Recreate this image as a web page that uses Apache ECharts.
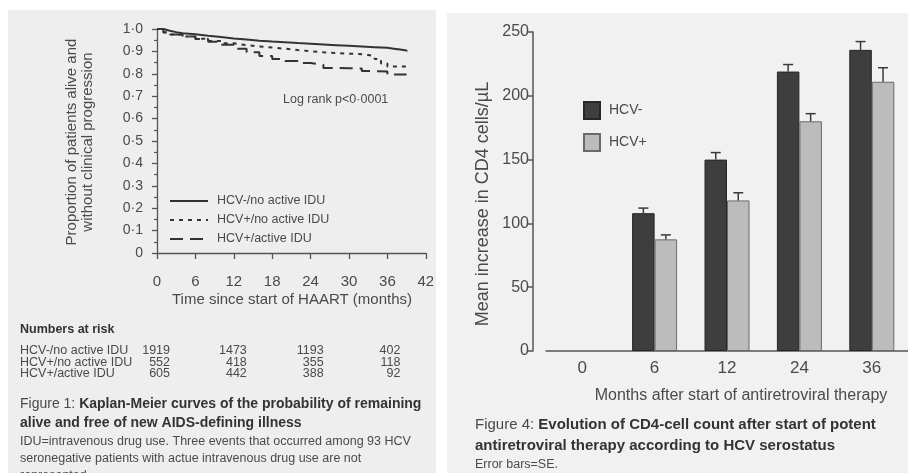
<!DOCTYPE html>
<html><head><meta charset="utf-8">
<script src="https://cdn.jsdelivr.net/npm/echarts@6/dist/echarts.min.js"></script>
<style>html,body{margin:0;padding:0;background:#fff}#c{width:908px;height:473px}</style>
</head><body><div id="c"></div><script>
// ---- Figure 1: Kaplan-Meier curves (months, proportion event-free) ----
const kmNames = ['HCV-/no active IDU', 'HCV+/no active IDU', 'HCV+/active IDU'];
const kmHcvNegNoIdu = [[0,1.0],[1,0.992],[2,0.986],[3,0.981],[4,0.977],[6,0.970],[8,0.964],[10,0.958],[12,0.953],[14,0.948],[16,0.944],[18,0.941],[20,0.937],[22,0.934],[24,0.931],[26,0.928],[28,0.925],[30,0.922],[32,0.919],[34,0.916],[36,0.912],[37,0.908],[38,0.904],[39,0.900]];
const kmHcvPosNoIdu = [[0,1.0],[1,0.985],[2,0.976],[4,0.966],[6,0.956],[8,0.946],[10,0.936],[12,0.928],[14,0.922],[16,0.917],[18,0.912],[20,0.906],[22,0.901],[24,0.896],[26,0.893],[28,0.890],[30,0.887],[32,0.884],[33,0.878],[34,0.866],[35,0.846],[36,0.833],[39,0.833]];
const kmHcvPosIdu = [[0,1.0],[1,0.984],[2,0.975],[4,0.966],[6,0.955],[8,0.943],[10,0.930],[12,0.912],[14,0.896],[16,0.880],[18,0.866],[20,0.857],[22,0.848],[24,0.840],[26,0.826],[28,0.825],[30,0.824],[32,0.812],[34,0.810],[36,0.797],[39,0.795]];

// Numbers at risk
const riskMonths = [0, 12, 24, 36];
const riskHcvNegNoIdu = [1919, 1473, 1193, 402];
const riskHcvPosNoIdu = [552, 418, 355, 118];
const riskHcvPosIdu = [605, 442, 388, 92];

// ---- Figure 4: CD4 increase by HCV serostatus ----
const cd4Months = ['0', '6', '12', '24', '36'];
const cd4Names = ['HCV-', 'HCV+'];
const cd4HcvNeg = [null, 108, 150, 219, 236];
const cd4HcvPos = [null, 87.5, 118, 180, 211];
const cd4SeHcvNeg = [null, 4, 5.5, 5.5, 6.5];
const cd4SeHcvPos = [null, 3.5, 6, 6, 11];

const FONT = '"Liberation Sans", Arial, sans-serif';
const INK = '#3a3a3a';
const TXT = '#4a4a4a';
const BAR_W = 22.5;

const kmStyles = [
  { color: '#333', width: 2, type: 'solid' },
  { color: '#333', width: 2, type: [4, 5] },
  { color: '#333', width: 2, type: [13, 7] }
];
const kmData = [kmHcvNegNoIdu, kmHcvPosNoIdu, kmHcvPosIdu];
const riskData = [riskHcvNegNoIdu, riskHcvPosNoIdu, riskHcvPosIdu];

function errorBars(values, errs, side) {
  return {
    type: 'custom', xAxisIndex: 1, yAxisIndex: 1, z: 5,
    data: values.map((v, i) => v == null ? null : [i, v, errs[i]]).filter(Boolean),
    encode: { x: 0, y: 1 },
    renderItem(params, api) {
      const i = api.value(0), v = api.value(1), e = api.value(2);
      const base = api.coord([i, v]);
      const top = api.coord([i, v + e]);
      const x = base[0] + side * BAR_W / 2;
      return { type: 'group', children: [
        { type: 'line', shape: { x1: x, y1: base[1], x2: x, y2: top[1] }, style: { stroke: INK, lineWidth: 1.5 } },
        { type: 'line', shape: { x1: x - 5, y1: top[1], x2: x + 5, y2: top[1] }, style: { stroke: INK, lineWidth: 1.5 } }
      ]};
    }
  };
}

const chart = echarts.init(document.getElementById('c'), null, { renderer: 'canvas' });

const option = {
  animation: false,
  backgroundColor: '#ffffff',
  textStyle: { fontFamily: FONT },
  grid: [
    { left: 157, top: 29, width: 268.8, height: 224 },
    { left: 546, top: 32, width: 387.5, height: 319 }
  ],
  xAxis: [
    {
      gridIndex: 0, type: 'value', min: 0, max: 42, interval: 6, offset: 9,
      axisLine: { show: true, lineStyle: { color: '#555', width: 1.3 } },
      axisTick: { show: true, length: 6, lineStyle: { color: '#555', width: 1.3 } },
      axisLabel: { fontSize: 15, color: TXT, margin: 12, fontFamily: FONT },
      splitLine: { show: false }
    },
    {
      gridIndex: 1, type: 'category', data: cd4Months,
      axisLine: { show: true, lineStyle: { color: '#555', width: 1.5 } },
      axisTick: { show: false },
      axisLabel: { fontSize: 17, color: TXT, margin: 9, fontFamily: FONT },
      splitLine: { show: false }
    }
  ],
  yAxis: [
    {
      gridIndex: 0, type: 'value', min: 0, max: 1, interval: 0.1, offset: 5,
      axisLine: { show: true, lineStyle: { color: '#555', width: 1.3 } },
      axisTick: { show: true, length: 5, lineStyle: { color: '#555', width: 1.3 } },
      minorTick: { show: true, splitNumber: 2, length: 3, lineStyle: { color: '#555', width: 1.2 } },
      axisLabel: {
        fontSize: 14, color: TXT, margin: 9, fontFamily: FONT,
        formatter: v => v === 0 ? '0' : v.toFixed(1).replace('.', '\u00b7')
      },
      splitLine: { show: false }
    },
    {
      gridIndex: 1, type: 'value', min: 0, max: 250, interval: 50, offset: 13,
      axisLine: { show: true, lineStyle: { color: '#555', width: 1.5 } },
      axisTick: { show: true, length: 6, lineStyle: { color: '#555', width: 1.5 } },
      axisLabel: { fontSize: 16, color: TXT, margin: 4, fontFamily: FONT },
      splitLine: { show: false }
    }
  ],
  legend: {
    data: cd4Names, orient: 'vertical', left: 583, top: 101, padding: 0,
    itemWidth: 16, itemHeight: 17, itemGap: 13, icon: 'rect',
    textStyle: { fontSize: 14, color: TXT, fontFamily: FONT, padding: [0, 0, 0, 4] }
  },
  series: [
    ...kmData.map((d, k) => ({
      name: kmNames[k], type: 'line', xAxisIndex: 0, yAxisIndex: 0,
      step: 'end', showSymbol: false, symbol: 'none', data: d,
      lineStyle: kmStyles[k], z: 3
    })),
    {
      name: cd4Names[0], type: 'bar', xAxisIndex: 1, yAxisIndex: 1,
      data: cd4HcvNeg, barWidth: BAR_W, barGap: '0%',
      itemStyle: { color: '#3e3e3e', borderColor: '#262626', borderWidth: 1 }
    },
    {
      name: cd4Names[1], type: 'bar', xAxisIndex: 1, yAxisIndex: 1,
      data: cd4HcvPos, barWidth: BAR_W, barGap: '0%',
      itemStyle: { color: '#bcbcbc', borderColor: '#6a6a6a', borderWidth: 1 }
    },
    errorBars(cd4HcvNeg, cd4SeHcvNeg, -1),
    errorBars(cd4HcvPos, cd4SeHcvPos, 1)
  ]
};
chart.setOption(option);

// Annotation layer: panels, titles, legend for curves, risk table, captions
const g = [];
g.push({ type: 'rect', z: -10, silent: true, shape: { x: 8, y: 10, width: 428, height: 463 }, style: { fill: '#eeeeee' } });
g.push({ type: 'rect', z: -10, silent: true, shape: { x: 447, y: 13, width: 461, height: 460 }, style: { fill: '#f1f1f1' } });

const txt = (x, y, text, o = {}) => ({
  type: 'text', x, y, rotation: o.rotation || 0, z: 10, silent: true,
  style: Object.assign({ text, fill: TXT, font: `${o.weight || 'normal'} ${o.size || 13}px ${FONT}`,
    textAlign: o.align || 'left', textVerticalAlign: 'middle' }, o.style || {})
});

// Figure 1 texts
g.push(txt(72, 142, 'Proportion of patients alive and', { size: 15, align: 'center', rotation: Math.PI / 2 }));
g.push(txt(88, 142, 'without clinical progression', { size: 15, align: 'center', rotation: Math.PI / 2 }));
g.push(txt(292, 300, 'Time since start of HAART (months)', { size: 15, align: 'center' }));
g.push(txt(283, 100, 'Log rank p<0\u00b70001', { size: 12.5 }));

const legY = [201, 220, 239];
kmNames.forEach((n, k) => {
  g.push({ type: 'line', z: 10, silent: true, shape: { x1: 170, y1: legY[k], x2: 208, y2: legY[k] },
    style: { stroke: kmStyles[k].color, lineWidth: kmStyles[k].width, lineDash: kmStyles[k].type === 'solid' ? null : kmStyles[k].type } });
  g.push(txt(217, legY[k], n, { size: 12.5 }));
});

g.push(txt(20, 330, 'Numbers at risk', { size: 12.5, weight: 'bold', style: { fill: '#333' } }));
const rowY = [351, 363, 374];
kmNames.forEach((n, k) => {
  g.push(txt(20, rowY[k], n, { size: 12.5 }));
  riskMonths.forEach((m, j) => {
    const px = chart.convertToPixel({ xAxisIndex: 0 }, m);
    g.push(txt(px + 13, rowY[k], String(riskData[k][j]), { size: 12.5, align: 'right' }));
  });
});

g.push({ type: 'text', x: 20, y: 404, z: 10, silent: true, style: {
  text: '{n|Figure 1: }{b|Kaplan-Meier curves of the probability of remaining}',
  textVerticalAlign: 'middle',
  rich: { n: { font: `normal 14px ${FONT}`, fill: TXT }, b: { font: `bold 14px ${FONT}`, fill: '#333' } }
}});
g.push(txt(20, 423, 'alive and free of new AIDS-defining illness', { size: 14, weight: 'bold', style: { fill: '#333' } }));
g.push(txt(20, 442, 'IDU=intravenous drug use. Three events that occurred among 93 HCV', { size: 12.5 }));
g.push(txt(20, 459, 'seronegative patients with actue intravenous drug use are not', { size: 12.5 }));
g.push(txt(20, 476, 'represented', { size: 12.5 }));

// Figure 4 texts
g.push(txt(483, 204, 'Mean increase in CD4 cells/\u00b5L', { size: 18, align: 'center', rotation: Math.PI / 2 }));
g.push(txt(741, 396, 'Months after start of antiretroviral therapy', { size: 16, align: 'center' }));
g.push({ type: 'text', x: 475, y: 425, z: 10, silent: true, style: {
  text: '{n|Figure 4: }{b|Evolution of CD4-cell count after start of potent}',
  textVerticalAlign: 'middle',
  rich: { n: { font: `normal 15px ${FONT}`, fill: TXT }, b: { font: `bold 15px ${FONT}`, fill: '#333' } }
}});
g.push(txt(475, 446, 'antiretroviral therapy according to HCV serostatus', { size: 15, weight: 'bold', style: { fill: '#333' } }));
g.push(txt(475, 465, 'Error bars=SE.', { size: 12.5 }));

chart.setOption({ graphic: { elements: g } });
</script></body></html>
